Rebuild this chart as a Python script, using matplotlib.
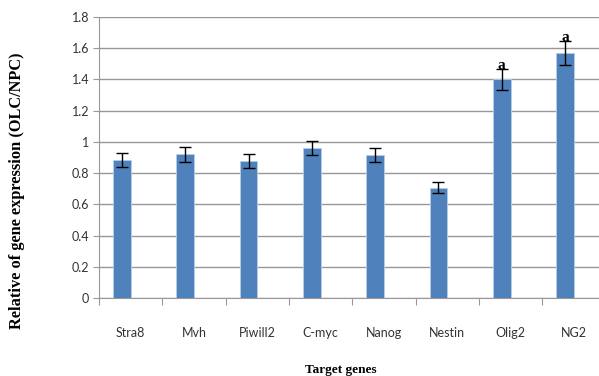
import matplotlib
matplotlib.use("Agg")
import matplotlib.pyplot as plt
import numpy as np

genes = ["Stra8", "Mvh", "Piwill2", "C-myc", "Nanog", "Nestin", "Olig2", "NG2"]
expression = [0.885, 0.92, 0.875, 0.96, 0.915, 0.705, 1.40, 1.57]
errors = [0.044, 0.047, 0.045, 0.047, 0.045, 0.035, 0.07, 0.075]
marks = ["", "", "", "", "", "", "a", "a"]
yticks = [0, 0.2, 0.4, 0.6, 0.8, 1.0, 1.2, 1.4, 1.6, 1.8]
ytick_labels = ["0", "0.2", "0.4", "0.6", "0.8", "1", "1.2", "1.4", "1.6", "1.8"]

fig = plt.figure(figsize=(5.99, 3.76), dpi=100)
ax = fig.add_axes([99 / 599, 78 / 376, 500 / 599, 281 / 376])

idx = np.arange(len(genes))
bar_x = idx + 0.363
ax.bar(bar_x, expression, width=0.28, color="#4F81BD", edgecolor="#B9CDE5",
       linewidth=0.6, zorder=3)
ax.errorbar(bar_x, expression, yerr=errors, fmt="none", ecolor="black",
            elinewidth=1, capsize=4, capthick=1, zorder=4)

for x, v, e, m in zip(bar_x, expression, errors, marks):
    if m:
        ax.text(x, v + e - 0.02, m, ha="center", va="bottom", fontsize=11,
                fontweight="bold", family="Liberation Serif", zorder=5)

ax.set_ylim(0, 1.8)
ax.set_xlim(0, 500 / 63.3)
ax.set_yticks(yticks)
ax.set_yticklabels(ytick_labels, fontsize=9, family="Lato", color="#333333")
ax.yaxis.grid(True, color="#989898", linewidth=1)
ax.set_axisbelow(True)

# category boundaries get the tick marks, names sit in the middle
ax.set_xticks(np.arange(0, 8))
ax.set_xticklabels([])
ax.set_xticks(idx + 0.5, minor=True)
ax.set_xticklabels(genes, minor=True, fontsize=9, family="Lato", color="#333333")
ax.tick_params(axis="x", which="major", length=5, color="#989898", direction="out")
ax.tick_params(axis="x", which="minor", length=0, pad=21)
ax.tick_params(axis="y", length=4, color="#989898", pad=3)

for side in ["top", "right"]:
    ax.spines[side].set_visible(False)
for side in ["left", "bottom"]:
    ax.spines[side].set_color("#989898")

fig.text(17 / 599, 1 - 191 / 376, "Relative of gene expression (OLC/NPC)",
         rotation=90, ha="center", va="center", fontsize=11.8,
         fontweight="bold", family="Liberation Serif")
fig.text(341 / 599, 1 - 370 / 376, "Target genes", ha="center", va="center",
         fontsize=9.5, fontweight="bold", family="Liberation Serif")

fig.savefig("out.png", dpi=100)
